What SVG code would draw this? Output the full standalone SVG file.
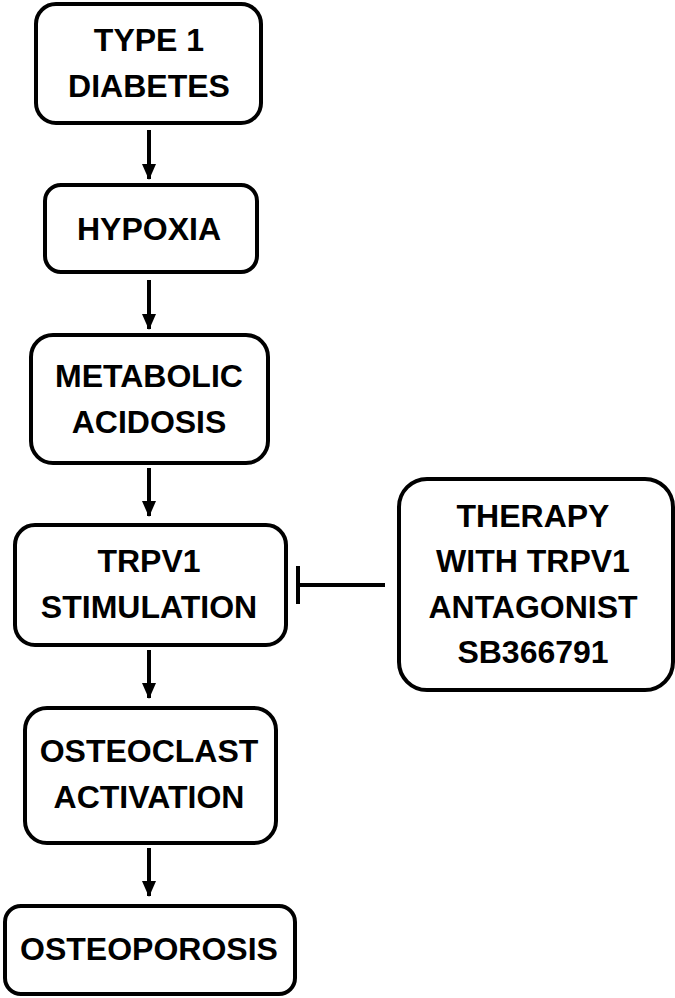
<svg xmlns="http://www.w3.org/2000/svg" width="675" height="998" viewBox="0 0 675 998">
  <style>
    .box { fill: #ffffff; stroke: #000000; stroke-width: 4; }
    .lbl { font-family: "Liberation Sans", Arial, sans-serif; font-weight: bold; font-size: 32px; fill: #000000; text-anchor: middle; }
    .conn { stroke: #000000; stroke-width: 4; fill: none; }
  </style>
  <defs>
    <marker id="arrow" markerUnits="userSpaceOnUse" markerWidth="16" markerHeight="16" viewBox="0 0 16 16" refX="15" refY="8" orient="auto">
      <path d="M0,1 L16,8 L0,15 Z" fill="#000000"/>
    </marker>
  </defs>
  <rect width="675" height="998" fill="#ffffff"/>

  <g id="n-type1">
    <rect class="box" x="36" y="4" width="225" height="119" rx="20"/>
    <text class="lbl" x="149" y="51">TYPE 1</text>
    <text class="lbl" x="149" y="97">DIABETES</text>
  </g>
  <g id="n-hypoxia">
    <rect class="box" x="45" y="185" width="212" height="87" rx="16"/>
    <text class="lbl" x="149" y="240">HYPOXIA</text>
  </g>
  <g id="n-acidosis">
    <rect class="box" x="31" y="335" width="237" height="128" rx="22"/>
    <text class="lbl" x="149" y="387">METABOLIC</text>
    <text class="lbl" x="149" y="433">ACIDOSIS</text>
  </g>
  <g id="n-trpv1">
    <rect class="box" x="15" y="525" width="271" height="120" rx="20"/>
    <text class="lbl" x="149" y="572">TRPV1</text>
    <text class="lbl" x="149" y="618">STIMULATION</text>
  </g>
  <g id="n-osteoclast">
    <rect class="box" x="25" y="708" width="251" height="135" rx="22"/>
    <text class="lbl" x="149" y="762">OSTEOCLAST</text>
    <text class="lbl" x="149" y="808">ACTIVATION</text>
  </g>
  <g id="n-osteoporosis">
    <rect class="box" x="5" y="906" width="290" height="88" rx="16"/>
    <text class="lbl" x="149" y="960">OSTEOPOROSIS</text>
  </g>
  <g id="n-therapy">
    <rect class="box" x="399" y="479" width="274" height="211" rx="28"/>
    <text class="lbl" x="533" y="527">THERAPY</text>
    <text class="lbl" x="533" y="572">WITH TRPV1</text>
    <text class="lbl" x="533" y="618">ANTAGONIST</text>
    <text class="lbl" x="533" y="663">SB366791</text>
  </g>

  <g id="connectors">
    <line class="conn" x1="149" y1="130" x2="149" y2="179" marker-end="url(#arrow)"/>
    <line class="conn" x1="149" y1="280" x2="149" y2="329" marker-end="url(#arrow)"/>
    <line class="conn" x1="149" y1="468" x2="149" y2="516" marker-end="url(#arrow)"/>
    <line class="conn" x1="149" y1="650" x2="149" y2="698" marker-end="url(#arrow)"/>
    <line class="conn" x1="149" y1="848" x2="149" y2="896" marker-end="url(#arrow)"/>
    <line class="conn" x1="385" y1="585" x2="298" y2="585"/>
    <line class="conn" x1="298" y1="566" x2="298" y2="604"/>
  </g>
</svg>
